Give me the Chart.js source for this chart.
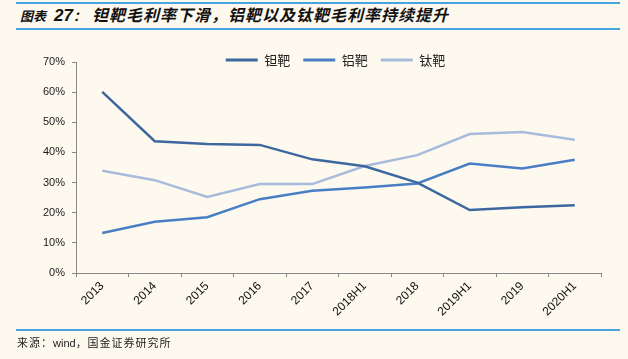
<!DOCTYPE html>
<html>
<head>
<meta charset="utf-8">
<script src="https://cdn.jsdelivr.net/npm/chart.js@4.4.0/dist/chart.umd.min.js"></script>
<style>
  body { margin: 0; background: #fdf9ef; }
  #wrap { position: relative; width: 628px; height: 359px; overflow: hidden; background: #fdf9ef; }
  #chart { position: absolute; left: 0; top: 0; }
  .rule { position: absolute; left: 16px; width: 604px; background: #45a5dd; }
  #title { position: absolute; left: 20px; top: 2px; height: 24px; line-height: 24px; white-space: nowrap;
    font-family: "Noto Sans CJK SC", sans-serif; font-style: italic; font-weight: bold; color: #111; }
  #title .lab { font-size: 13px; }
  #title .num { font-family: "Liberation Sans", Arial, sans-serif; font-size: 17px; margin-left: 8px; }
  #title .txt { font-size: 16px; letter-spacing: 1px; margin-left: 6px; }
  #source { position: absolute; left: 17px; top: 334px; font-family: "Noto Sans CJK SC", sans-serif;
    font-size: 11px; letter-spacing: 1px; color: #222; white-space: nowrap; }
  #source .en { font-family: "Liberation Sans", Arial, sans-serif; letter-spacing: 0; }
</style>
</head>
<body>
<div id="wrap">
  <div class="rule" style="top:2px;height:2px"></div>
  <div id="title"><span class="lab">图表</span><span class="num">27</span><span class="lab">：</span><span class="txt">钽靶毛利率下滑，铝靶以及钛靶毛利率持续提升</span></div>
  <div class="rule" style="top:28px;height:2px"></div>
  <canvas id="chart" width="628" height="359"></canvas>
  <div class="rule" style="top:329px;height:2px"></div>
  <div id="source">来源：<span class="en">wind</span>，国金证券研究所</div>
</div>
<script>
var years = ["2013", "2014", "2015", "2016", "2017", "2018H1", "2018", "2019H1", "2019", "2020H1"];
var names = ["钽靶", "铝靶", "钛靶"];
var tantalum = [60.1, 43.7, 42.8, 42.5, 37.7, 35.4, 30.0, 20.9, 21.8, 22.5];
var aluminium = [13.3, 17.0, 18.5, 24.5, 27.3, 28.4, 29.7, 36.3, 34.7, 37.6];
var titanium = [33.9, 30.8, 25.2, 29.5, 29.5, 35.5, 39.1, 46.1, 46.8, 44.2];
var yTicks = [0, 10, 20, 30, 40, 50, 60, 70];

var colors = ["#3c679f", "#4a7ec4", "#a7bbdd"];

Chart.defaults.font.family = "'Liberation Sans', Arial, sans-serif";
Chart.defaults.color = "#1a1a1a";

// legend sits over the top of the plot in the original, nudge it there
var legendNudge = {
  id: 'legendNudge',
  afterLayout: function(c) {
    var l = c.legend;
    l.top += 14.5; l.bottom += 14.5;
    l.left += 19; l.right += 19;
  }
};

var ctx = document.getElementById("chart").getContext('2d');
var chart = new Chart(ctx, {
  type: 'line',
  data: {
    labels: years,
    datasets: [tantalum, aluminium, titanium].map(function(vals, i) {
      return {
        label: names[i],
        data: vals,
        borderColor: colors[i],
        backgroundColor: colors[i],
        borderWidth: 2.5,
        pointRadius: 0,
        tension: 0
      };
    })
  },
  options: {
    responsive: false,
    animation: false,
    events: [],
    layout: { padding: { left: 32, right: 27, top: 26, bottom: 34 } },
    plugins: {
      tooltip: { enabled: false },
      legend: {
        position: 'top',
        labels: {
          boxWidth: 32,
          boxHeight: 3,
          padding: 13,
          color: '#222',
          font: { family: "'Noto Sans CJK SC', sans-serif", size: 13 },
          generateLabels: function(c) {
            var items = Chart.defaults.plugins.legend.labels.generateLabels(c);
            items.forEach(function(it) { it.lineWidth = 0; });
            return items;
          }
        }
      }
    },
    scales: {
      x: {
        offset: true,
        grid: { display: true, drawOnChartArea: false, offset: true, tickLength: 4, color: '#888' },
        border: { color: '#888', width: 1 },
        ticks: { minRotation: 45, maxRotation: 45, autoSkip: false, padding: 2,
          font: { size: 12 }, color: '#111' },
        afterFit: function(s) { s.height = 52; }
      },
      y: {
        min: 0,
        max: 70,
        afterBuildTicks: function(s) { s.ticks = yTicks.map(function(v) { return { value: v }; }); },
        grid: { display: true, drawOnChartArea: false, tickLength: 4, color: '#888' },
        border: { color: '#888', width: 1 },
        ticks: { padding: 7, font: { size: 11 }, color: '#1a1a1a',
          callback: function(v) { return v + '%'; } },
        afterFit: function(s) { s.width = 44; }
      }
    }
  },
  plugins: [legendNudge]
});
</script>
</body>
</html>
